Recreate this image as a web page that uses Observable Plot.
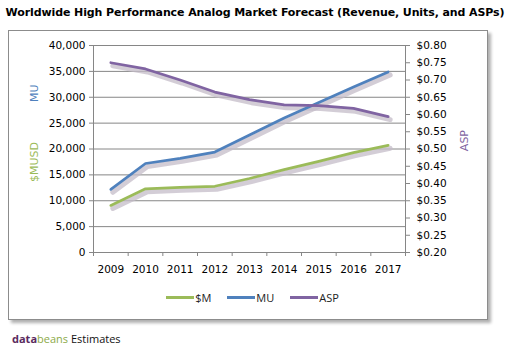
<!DOCTYPE html>
<html>
<head>
<meta charset="utf-8">
<script src="https://cdn.jsdelivr.net/npm/d3@7"></script>
<script src="https://cdn.jsdelivr.net/npm/@observablehq/plot@0.6"></script>
<style>
  html, body { margin: 0; padding: 0; background: #fff; }
  #page { position: relative; width: 505px; height: 350px; overflow: hidden; font-family: "DejaVu Sans", Verdana, sans-serif; }
  #title { position: absolute; left: 0; top: 6px; width: 510px; text-align: center; font-weight: bold; font-size: 11px; color: #000; white-space: nowrap; letter-spacing: -0.1px; }
  #box { position: absolute; left: 8px; top: 30px; width: 478px; height: 288px; border: 1px solid #8c8c8c; box-shadow: 3px 3px 3px #b0b0b0; background: #fff; }
  #chart { position: absolute; left: 0; top: 0; }
  #legend { position: absolute; top: 290px; left: 0; width: 505px; font-family: "Open Sans", sans-serif; font-size: 11px; color: #222; display: flex; justify-content: center; gap: 16px; }
  #legend span.item { display: inline-flex; align-items: center; }
  #legend span.sw { display: inline-block; width: 28px; height: 3px; margin-right: 1px; }
  #footer { position: absolute; left: 12px; top: 331px; font-family: "Open Sans", sans-serif; font-size: 11px; color: #111; }
</style>
</head>
<body>
<div id="page">
  <div id="title"></div>
  <div id="box"></div>
  <div id="chart"></div>
  <div id="legend"></div>
  <div id="footer"><b style="color:#5a2a5e">data</b><span style="color:#8caa48">beans</span> Estimates</div>
</div>
<script>
const titleText = "Worldwide High Performance Analog Market Forecast (Revenue, Units, and ASPs)";
const years = [2009, 2010, 2011, 2012, 2013, 2014, 2015, 2016, 2017];
const revenueM = [9100, 12300, 12600, 12800, 14300, 16000, 17600, 19300, 20700];
const unitsMU = [12200, 17200, 18200, 19400, 22700, 26000, 29000, 32000, 34900];
const aspUSD = [0.750, 0.732, 0.700, 0.665, 0.643, 0.628, 0.626, 0.618, 0.594];
const leftTicks = [0, 5000, 10000, 15000, 20000, 25000, 30000, 35000, 40000];
const rightTicks = [0.20, 0.25, 0.30, 0.35, 0.40, 0.45, 0.50, 0.55, 0.60, 0.65, 0.70, 0.75, 0.80];
const seriesNames = ["$M", "MU", "ASP"];
const seriesColors = ["#9bbb59", "#4f81bd", "#8064a2"];

document.getElementById("title").textContent = titleText;

// secondary axis mapping onto primary scale
const leftMax = leftTicks[leftTicks.length - 1];
const rMin = rightTicks[0], rMax = rightTicks[rightTicks.length - 1];
const toLeft = v => (v - rMin) / (rMax - rMin) * leftMax;
const fromLeft = y => rMin + y / leftMax * (rMax - rMin);

const rows = [];
years.forEach((yr, i) => {
  rows.push({year: yr, series: "$M", y: revenueM[i]});
  rows.push({year: yr, series: "MU", y: unitsMU[i]});
  rows.push({year: yr, series: "ASP", y: toLeft(aspUSD[i])});
});

const xDomain = [years[0] - 0.5, years[years.length - 1] + 0.5];
const boundaries = years.map(y => y - 0.5).concat([years[years.length - 1] + 0.5]);
const font = "DejaVu Sans";

const plot = Plot.plot({
  width: 505,
  height: 320,
  marginTop: 45,
  marginBottom: 68,
  marginLeft: 93,
  marginRight: 100,
  style: {fontFamily: font, fontSize: "10.5px", color: "#000", background: "transparent", overflow: "visible"},
  x: {domain: xDomain, axis: null, label: null},
  y: {domain: [0, leftMax], axis: null, label: null},
  color: {domain: seriesNames, range: seriesColors},
  marks: [
    Plot.gridY(leftTicks, {stroke: "#868686", strokeOpacity: 1, strokeWidth: 1}),
    Plot.ruleX(xDomain, {stroke: "#868686", strokeWidth: 1}),
    Plot.ruleY([0], {stroke: "#868686", strokeWidth: 1}),
    Plot.axisY(leftTicks, {anchor: "left", label: null, tickSize: 4, tickPadding: 4, stroke: "#868686", tickFormat: d3.format(","), fill: "#000", fontSize: 10.5}),
    Plot.axisY(rightTicks.map(toLeft), {anchor: "right", label: null, tickSize: 4, tickPadding: 7, stroke: "#868686", tickFormat: v => "$" + fromLeft(v).toFixed(2), fill: "#000", fontSize: 10.5, textAnchor: "start"}),
    Plot.axisX(boundaries, {anchor: "bottom", label: null, tickSize: 4, tickFormat: () => "", stroke: "#868686"}),
    Plot.axisX(years, {anchor: "bottom", label: null, tickSize: 0, tickPadding: 13, tickFormat: d => String(d), fill: "#000", fontSize: 10.5}),
    // shadows
    Plot.line(rows, {x: "year", y: "y", z: "series", stroke: "#c4bcc8", strokeWidth: 5, strokeOpacity: 0.75, dx: 2, dy: 3, strokeLinejoin: "round"}),
    Plot.line(rows, {x: "year", y: "y", stroke: "series", strokeWidth: 2.75, strokeLinejoin: "round"}),
    // axis titles
    Plot.text(["MU"], {frameAnchor: "left", dx: -59, dy: -47, rotate: -90, fill: "#4f81bd", fontSize: 11, fontFamily: font}),
    Plot.text(["$MUSD"], {frameAnchor: "left", dx: -59, dy: 33, rotate: -90, fill: "#9bbb59", fontSize: 11, fontFamily: font}),
    Plot.text(["ASP"], {frameAnchor: "right", dx: 59, dy: -19, rotate: -90, fill: "#8064a2", fontSize: 11, fontFamily: font})
  ]
});
document.getElementById("chart").appendChild(plot);

const legend = document.getElementById("legend");
seriesNames.forEach((name, i) => {
  const item = document.createElement("span");
  item.className = "item";
  const sw = document.createElement("span");
  sw.className = "sw";
  sw.style.background = seriesColors[i];
  item.appendChild(sw);
  item.appendChild(document.createTextNode(name));
  legend.appendChild(item);
});
</script>
</body>
</html>
